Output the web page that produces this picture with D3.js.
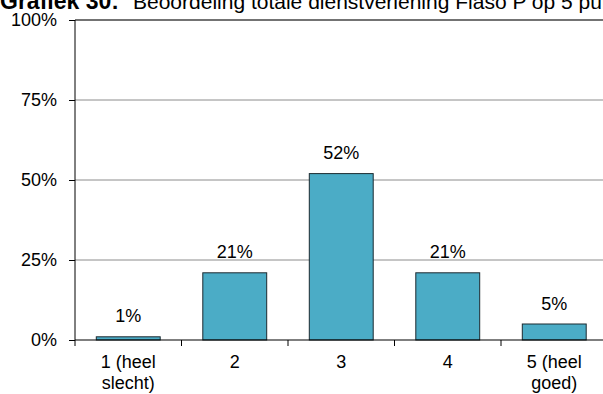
<!DOCTYPE html>
<html><head><meta charset="utf-8">
<script src="https://cdn.jsdelivr.net/npm/d3@7"></script>
<style>body{margin:0;background:#fff;}svg{display:block;font-family:Arial,"Liberation Sans",sans-serif;}</style>
</head><body>
<svg id="c" width="603" height="394"></svg>
<script>
const categories = ["1 (heel|slecht)", "2", "3", "4", "5 (heel|goed)"];
const values = [1, 21, 52, 21, 5];
const yTicks = [0, 25, 50, 75, 100];
const titleBold = "Grafiek 30:";
const titleRest = "Beoordeling totale dienstverlening Flaso P op 5 puntenschaal";

(function () {
const svg = d3.select("#c");
const FS = 18;
const mLeft = 75, mTop = 20, mBottom = 340, mRight = 607.5;
const x = d3.scaleBand().domain(categories).range([mLeft, mRight]).paddingInner(0.4).paddingOuter(0.2);
const y = d3.scaleLinear().domain([0, 100]).range([mBottom, mTop]);

// title
const t = svg.append("text").attr("x", 0).attr("y", 9).attr("font-size", 21).attr("fill", "#000");
t.append("tspan").attr("font-weight", "bold").attr("font-size", 23).text(titleBold);
t.append("tspan").attr("x", 133).text(titleRest);

// gridlines
svg.append("g").selectAll("line").data(yTicks.filter(d => d > 0)).join("line")
  .attr("x1", mLeft).attr("x2", 603).attr("y1", d => y(d)).attr("y2", d => y(d))
  .attr("stroke", d => d === 100 ? "#444" : "#8c8c8c").attr("stroke-width", d => d === 100 ? 1.5 : 1);

// y axis
const ya = svg.append("g").attr("transform", `translate(${mLeft},0)`)
  .call(d3.axisLeft(y).tickValues(yTicks).tickFormat(d => d + "%").tickSize(6).tickPadding(12));
ya.select(".domain").remove();
ya.selectAll(".tick line").attr("stroke", "#000");
ya.selectAll("text").attr("font-size", FS).attr("font-family", "Arial, 'Liberation Sans', sans-serif").attr("fill", "#000");
svg.append("line").attr("x1", mLeft).attr("x2", mLeft).attr("y1", mTop).attr("y2", mBottom).attr("stroke", "#000");

// bars
svg.append("g").selectAll("rect").data(values).join("rect")
  .attr("x", (d, i) => x(categories[i])).attr("width", x.bandwidth())
  .attr("y", d => y(d)).attr("height", d => mBottom - y(d))
  .attr("fill", "#4bacc6").attr("stroke", "#1b2a30").attr("stroke-width", 1);

// value labels
svg.append("g").selectAll("text").data(values).join("text")
  .attr("x", (d, i) => x(categories[i]) + x.bandwidth() / 2).attr("y", d => y(d) - 14.5)
  .attr("text-anchor", "middle").attr("font-size", FS).attr("fill", "#000").text(d => d + "%");

// x axis
svg.append("line").attr("x1", mLeft).attr("x2", 603).attr("y1", mBottom).attr("y2", mBottom).attr("stroke", "#000").attr("stroke-width", 1.2);
const step = x.step();
const boundaries = categories.map((c, i) => mLeft + i * step);
svg.append("g").selectAll("line").data(boundaries).join("line")
  .attr("x1", d => d).attr("x2", d => d).attr("y1", mBottom).attr("y2", mBottom + 6).attr("stroke", "#000");

const xl = svg.append("g").selectAll("text").data(categories).join("text")
  .attr("x", d => x(d) + x.bandwidth() / 2).attr("y", 368)
  .attr("text-anchor", "middle").attr("font-size", FS).attr("fill", "#000");
xl.each(function(d) {
  const parts = d.split("|");
  const el = d3.select(this);
  parts.forEach((p, i) => el.append("tspan").attr("x", el.attr("x")).attr("dy", i ? 21 : 0).text(p));
});
})();
</script>
</body></html>
